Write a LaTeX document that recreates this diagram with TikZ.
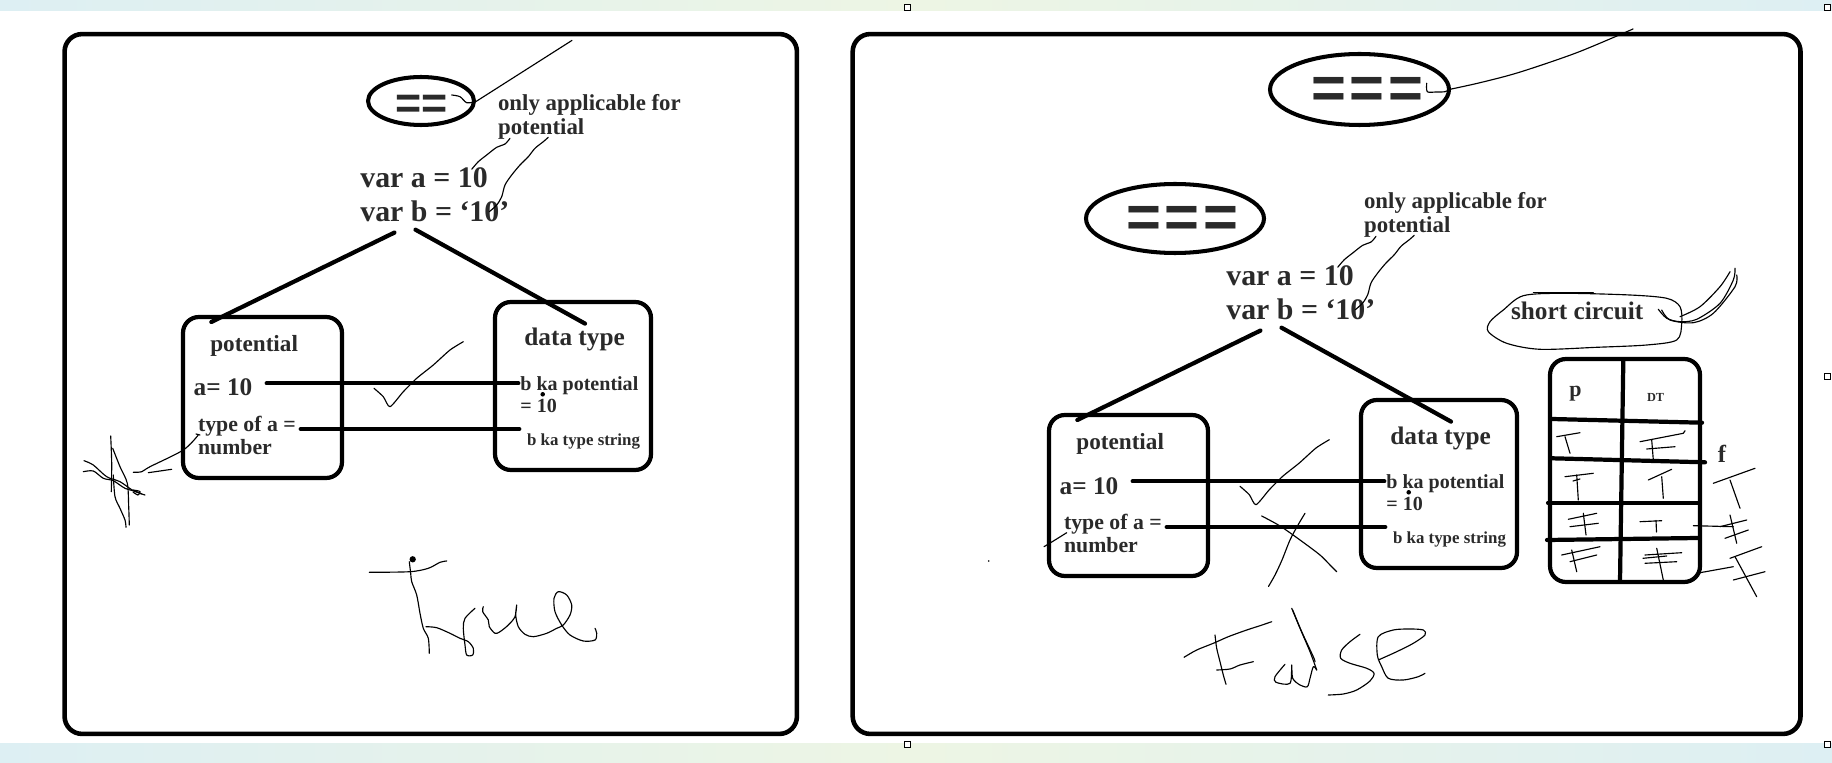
\documentclass[tikz,border=0pt]{standalone}
\usepackage{fontspec}
\setmainfont{Liberation Serif}
\newfontfamily\eqfont{Liberation Sans}
\usetikzlibrary{shapes.geometric}
\definecolor{ink}{HTML}{2A2A2A}
\definecolor{stripA}{HTML}{DDEFF3}
\definecolor{stripB}{HTML}{EDF5E4}
\tikzset{
  panel/.style={draw=black, line width=2.6pt, rounded corners=10pt, inner sep=0pt},
  rbox/.style={draw=black, line width=2.4pt, rounded corners=9pt, inner sep=0pt},
  oval/.style={ellipse, draw=black, line width=2.3pt, inner sep=0pt},
  handle/.style={draw=black, fill=white, line width=0.5pt, minimum size=0.12cm, inner sep=0pt},
  txt/.style={inner sep=0pt, anchor=base west, text=ink, align=left},
  eqtxt/.style={inner sep=0pt, anchor=base west, text=ink},
  thick line/.style={draw=black, line width=2.4pt, line cap=round},
  hand/.style={draw=black, line width=0.65pt, line cap=round, line join=round},
  fA/.style={font=\bfseries\fontsize{13}{13.9}\selectfont},
  fB/.style={font=\bfseries\fontsize{17}{19.9}\selectfont},
  fC/.style={font=\bfseries\fontsize{13.2}{13.2}\selectfont},
  fD/.style={font=\bfseries\fontsize{14.4}{14.4}\selectfont},
  fE/.style={font=\bfseries\fontsize{12.4}{13.2}\selectfont},
  fF/.style={font=\bfseries\fontsize{11.4}{12.3}\selectfont},
  fG/.style={font=\bfseries\fontsize{9.6}{9.6}\selectfont},
}
% multi-line nodes: the base anchor is the baseline of the last line
\newcommand\sharedgroup[1]{%
  \node[txt, fA] (only#1) at (497.7,135) {only applicable for\\potential};
  \node[txt, fB] (var#1) at (360,222) {var a = 10\\var b = ‘10’};
  \node[rbox, minimum width=3.18cm, minimum height=3.22cm] (pot#1) at (262.5,397.5) {};
  \node[rbox, minimum width=3.12cm, minimum height=3.36cm] (dt#1) at (573,386) {};
  \node[txt, fC] (potT#1) at (210,351.7) {potential};
  \node[txt, fD] (a#1) at (193.3,396) {a= 10};
  \node[txt, fE] (type#1) at (197.7,454.3) {type of a =\\number};
  \node[txt, fD] (dtT#1) at (524,346) {data type};
  \node[txt, fF] (bp#1) at (520,412.5) {b ka potential\\= 10};
  \node[txt, fG] (bt#1) at (526.7,445) {b ka type string};
  \fill[black] (542.7,394.3) circle[radius=1.3pt];
  % tree
  \coordinate (tA#1) at (394.4,232.6); \coordinate (tB#1) at (211.3,322);
  \coordinate (tC#1) at (415.5,229.7); \coordinate (tD#1) at (585,323.6);
  \draw[thick line] (tA#1) -- (tB#1);
  \draw[thick line] (tC#1) -- (tD#1);
  % connectors
  \coordinate (cA#1) at (266.7,383.3); \coordinate (cB#1) at (518.3,383.3);
  \coordinate (cC#1) at (300.7,429); \coordinate (cD#1) at (519.3,429);
  \draw[thick line] (cA#1) -- (cB#1);
  \draw[thick line] (cC#1) -- (cD#1);
  % thin wiggles from the note
  \draw[hand] plot[smooth] coordinates {(510,138.3) (505,144) (496.7,147.3) (486.7,155) (478.3,161.7) (471.7,169.3)};
  \draw[hand] plot[smooth] coordinates {(548.3,137.3) (543.3,141.7) (535,148.3) (528.3,156.7) (520,165) (511.7,175) (505,185) (501.7,196.7) (496.7,205) (489.3,211.7)};
  % tick
  \draw[hand] plot[smooth, tension=0.4] coordinates {(374,388.3) (383.3,396.7) (390,406.7) (403.3,391.7) (416.7,378.3) (433.3,365) (450,350) (463.3,341.7)};
}
\begin{document}
\begin{tikzpicture}[x=0.02cm, y=-0.02cm]
\useasboundingbox (0,0) rectangle (1832,763);
\fill[white] (0,0) rectangle (1832,763);
\shade[left color=stripA, right color=stripA, middle color=stripB] (0,0) rectangle (1832,11);
\shade[left color=stripA, right color=stripA, middle color=stripB] (0,743) rectangle (1832,763);
% selection handles
\node[handle] (h1) at (907,7) {};
\node[handle] (h2) at (1827,7) {};
\node[handle] (h3) at (1827,376) {};
\node[handle] (h4) at (907,744) {};
\node[handle] (h5) at (1827,744) {};
% panels
\node[panel, minimum width=14.65cm, minimum height=14cm] (panL) at (430.75,384) {};
\node[panel, minimum width=18.96cm, minimum height=14cm] (panR) at (1326.6,384) {};
% ===== left panel =====
\node[oval, minimum width=2.12cm, minimum height=0.96cm] (eqL) at (421,101) {};
\node[eqtxt, font=\eqfont\bfseries\fontsize{25.5}{25.5}\selectfont] (eqLt) at (395,119) {==};
\draw[hand] plot[smooth] coordinates {(451.7,95) (460,96.7) (466.7,102.7) (475.7,101.7)};
\coordinate (eqLend) at (572,40.4);
\draw[hand] (475.7,101.7) -- (eqLend);
\sharedgroup{L}
% hash scribble
\draw[hand] plot[smooth] coordinates {(110.7,436) (111.7,463.3) (111.3,491.7)};
\draw[hand] plot[smooth] coordinates {(112.7,448.3) (120,466.7) (127.3,483.3) (128.7,506.7) (129.3,525)};
\draw[hand] plot[smooth] coordinates {(113.3,475) (115,496.7) (120,508.3) (125,520) (126,527.3)};
\draw[hand] plot[smooth] coordinates {(84,460.7) (93.3,465) (106.7,476.7) (120,481.7) (133.3,490.7) (145,495)};
\draw[hand] plot[smooth] coordinates {(83.3,471.7) (93.3,471) (103.3,478.3) (113.3,480.7) (125,488.3) (136.7,491.7) (141.7,494)};
\draw[hand] plot[smooth] coordinates {(133,490) (140,491.5) (138,495) (133,492)};
\draw[hand] plot[smooth] coordinates {(133.3,472.3) (141.7,471.7) (150,466.7) (183.3,450) (198.3,435)};
\draw[hand] (196,434) -- (200,435);
\draw[hand] (148.3,472.7) -- (171.7,469.3);
% True
\draw[hand] plot[smooth] coordinates {(369.3,572.3) (410,571.7) (428.3,568.3) (440,562.3) (446.7,561)};
\fill[black] (412.7,559.3) circle[radius=1.8pt];
\draw[hand] plot[smooth] coordinates {(409.3,561.7) (410.7,573.3) (411.7,581.7) (416.7,595) (420,613.3) (423.3,628.3) (428.3,638.3) (429.3,653.3)};
\draw[hand] plot[smooth] coordinates {(426,626.7) (436.7,627.7) (450,633.3) (460,638.3) (468.3,641.7) (473.3,648.3) (472.7,655) (466.7,655) (465,645) (463.3,628.3) (465,618.3) (475,608.3)};
\draw[hand] plot[smooth] coordinates {(483.3,606.7) (482.7,611.7) (488.3,620) (489.3,626.7) (495,633.3) (500,631.7) (508.3,625) (515,616.7) (516.7,605) (515.7,615) (518.3,626.7) (525,634.3) (533.3,636.7) (546.7,633.3) (556.7,628.3) (563.3,625) (570,615) (571.7,605) (566.7,595) (558.3,591.7) (554,598.3) (555,611.7) (561.7,625) (570,635) (583.3,641) (595,640) (596.7,633.3) (595,628.3)};
% ===== right panel =====
\node[oval, minimum width=3.58cm, minimum height=1.42cm] (eqR1) at (1359.5,89.5) {};
\node[eqtxt, font=\eqfont\bfseries\fontsize{34}{34}\selectfont] (eqR1t) at (1311,109) {=\kern2pt=\kern2pt=};
\draw[hand] plot[smooth] coordinates {(1426.7,83.3) (1427.3,91.7) (1436,92) (1445,91.7) (1450,89.3)};
\coordinate (eqRend) at (1633,29);
\draw[hand] plot[smooth] coordinates {(1450,89.3) (1480,82.7) (1519,72.4) (1577,52.6) (eqRend)};
\node[oval, minimum width=3.56cm, minimum height=1.38cm] (eqR2) at (1175,218.5) {};
\node[eqtxt, font=\eqfont\bfseries\fontsize{34}{34}\selectfont] (eqR2t) at (1126,238) {=\kern2pt=\kern2pt=};
\begin{scope}[shift={(866,98)}]
\sharedgroup{R}
\end{scope}
\draw[hand] plot[smooth] coordinates {(1044,546.7) (1055,540) (1066.7,532.7)};
\fill[black] (988.7,561) circle[radius=0.5pt];
% X over the type connector
\draw[hand] plot[smooth] coordinates {(1261.7,516) (1280,526) (1300,540) (1320,555) (1330,565) (1336.7,571.7)};
\draw[hand] plot[smooth] coordinates {(1305,513.3) (1298,525) (1290,540) (1282,560) (1275,575) (1268.5,586.4)};
% False
\draw[hand] plot[smooth] coordinates {(1184,657.3) (1196.7,650) (1213.3,643.3) (1228.3,636.7) (1246.7,630) (1260,625.7) (1271.7,621.7)};
\draw[hand] plot[smooth] coordinates {(1215,635) (1216.7,648.3) (1220,661.7) (1223.3,675) (1226,684.3)};
\draw[hand] plot[smooth] coordinates {(1216.7,670) (1230,669) (1240,665) (1253.3,661.7)};
\draw[hand] plot[smooth] coordinates {(1285,664.3) (1275,676.7) (1276,682.3) (1290,683.3) (1291.7,665) (1292.7,678.3) (1300,685) (1307.3,686.7) (1310,678.3) (1313.3,666.7) (1316.7,670)};
\draw[hand] plot[smooth] coordinates {(1291.7,608.3) (1300,628.3) (1310,651.7) (1316.7,670)};
\draw[hand] plot[smooth] coordinates {(1292.7,610) (1301.7,631.7) (1313.3,656.7) (1315,661.7)};
\draw[hand] plot[smooth] coordinates {(1360,634.3) (1350,641.7) (1341.7,650) (1340.7,658.3) (1350,663.3) (1366.7,668.3) (1374,673.3) (1370,681) (1356.7,690) (1343.3,694) (1328.3,695)};
\draw[hand] plot[smooth] coordinates {(1378.3,660) (1396.7,651.7) (1413.3,643.3) (1425,635) (1423.3,630) (1410,629) (1393.3,630) (1378.3,636.7) (1377.3,655) (1381.7,666.7) (1388.3,678.3) (1403.3,680) (1418.3,676.7) (1425,673.3)};
% short circuit
\node[txt, fD] (sc) at (1510.7,320) {short circuit};
\draw[hand] plot[smooth cycle] coordinates {(1523.3,295.7) (1563.3,293.3) (1630,295) (1666.7,298.3) (1680,306.7) (1681.7,323.3) (1676.7,340) (1646.7,345) (1596.7,347.3) (1540,349.3) (1506.7,343.3) (1488.3,331.7) (1490,321.7) (1503.3,310)};
\draw[hand] (1533.3,292.3) -- (1593.3,292.3);
\draw[hand] plot[smooth] coordinates {(1658.3,309.3) (1666.7,318.3) (1680,321.7) (1696.7,319.3) (1720,303.3) (1733.3,280) (1735,268.3)};
\draw[hand] plot[smooth] coordinates {(1661.7,310) (1670,320) (1693.3,322.7) (1713.3,313.3) (1735,286.7) (1736.7,275)};
\draw[hand] plot[smooth] coordinates {(1680,316.7) (1700,306.7) (1720,286.7) (1730,271.7)};
% truth table
\node[rbox, minimum width=3.0cm, minimum height=4.46cm] (tab) at (1625,470.5) {};
\coordinate (vA) at (1623.3,361); \coordinate (vB) at (1620,581);
\draw[thick line] (vA) -- (vB);
\coordinate (r1a) at (1552,419); \coordinate (r1b) at (1702,422.7);
\coordinate (r2a) at (1552,458.3); \coordinate (r2b) at (1705,462.3);
\coordinate (r3a) at (1548,502.7); \coordinate (r3b) at (1698,502.7);
\coordinate (r4a) at (1547,540); \coordinate (r4b) at (1698,538);
\draw[thick line] (r1a) -- (r1b);
\draw[thick line] (r2a) -- (r2b);
\draw[thick line] (r3a) -- (r3b);
\draw[thick line] (r4a) -- (r4b);
\node[txt, font=\bfseries\fontsize{12.5}{12.5}\selectfont] (tp) at (1569,396.7) {p};
\node[txt, font=\bfseries\fontsize{7}{7}\selectfont] (tdt) at (1646.7,401.7) {DT};
\node[txt, font=\bfseries\fontsize{14}{14}\selectfont] (tf) at (1717.5,462) {f};
% cell scribbles
\draw[hand] (1556.7,436.7) -- (1580,432.7); \draw[hand] (1565,436.7) -- (1570,453.3);
\draw[hand] (1640,441.7) -- (1683.3,433.3) -- (1685,430.7); \draw[hand] (1646.7,449) -- (1675,446.7); \draw[hand] (1651.7,440) -- (1653.3,460);
\draw[hand] (1565,476.7) -- (1593.3,473.3); \draw[hand] (1576.7,475) -- (1578.3,500); \draw[hand] (1573,481) -- (1580,479);
\draw[hand] (1648.3,480) -- (1671.7,469.3); \draw[hand] (1661.7,476.7) -- (1663.3,498.3);
\draw[hand] (1568.3,519.3) -- (1596.7,513.3); \draw[hand] (1570,526.7) -- (1598.3,523.3); \draw[hand] (1583.3,513.3) -- (1586,535);
\draw[hand] (1640,521.7) -- (1661.7,520.7); \draw[hand] (1656,520.5) -- (1656.5,532);
\draw[hand] (1561.7,555) -- (1600,546.7); \draw[hand] (1570,561.7) -- (1596.7,555); \draw[hand] (1571.7,550) -- (1576.7,571.7);
\draw[hand] (1645,555) -- (1681.7,552.7); \draw[hand] (1645,563.3) -- (1676.7,561.7); \draw[hand] (1656.7,548.3) -- (1663.3,580); \draw[hand] (1643,558.3) -- (1666.7,556);
% right of table
\draw[hand] (1713.3,483.3) -- (1755,468.3); \draw[hand] (1730,480) -- (1740,508.3);
\draw[hand] (1693.3,525.7) -- (1733.3,526.7); \draw[hand] (1720,526.7) -- (1746.7,520); \draw[hand] (1725,538.3) -- (1748.3,530); \draw[hand] (1730,515) -- (1736.7,543.3);
\draw[hand] (1700,572.7) -- (1733.3,566.7); \draw[hand] (1730,558.3) -- (1761.7,546.7); \draw[hand] (1733.3,580) -- (1765,571.7); \draw[hand] (1735,556.7) -- (1756.7,596.7);
\end{tikzpicture}
\end{document}
